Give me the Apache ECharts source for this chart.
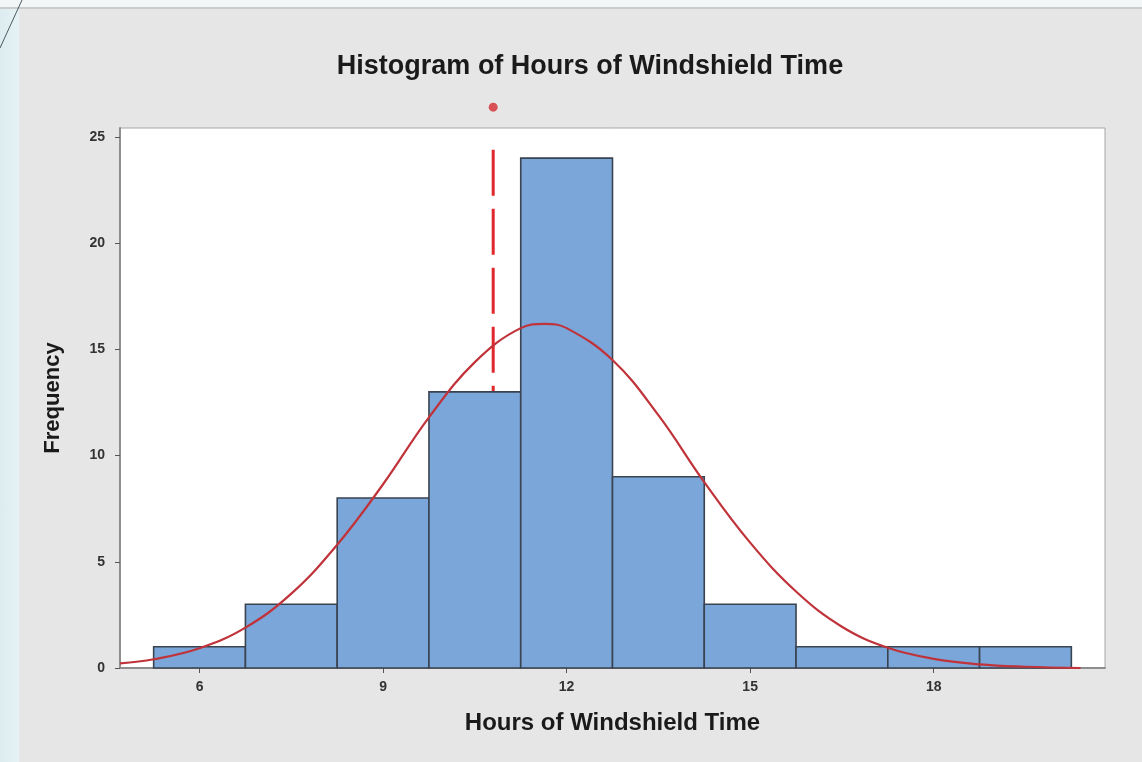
<!DOCTYPE html>
<html>
<head>
<meta charset="utf-8">
<script src="https://cdn.jsdelivr.net/npm/echarts@6/dist/echarts.min.js"></script>
<style>
  html, body { margin: 0; padding: 0; width: 1142px; height: 762px; overflow: hidden; }
  body { background: linear-gradient(to right, #dcecf0 0px, #e6f2f5 18px, #e6e6e6 20px, #e6e6e6 100%); }
  #topband { position: absolute; left: 0; top: 0; width: 1142px; height: 7px; background: #f2f6f7; border-bottom: 2px solid #c8cccd; }
  #deco { position: absolute; left: 0; top: 0; }
  #chart { position: absolute; left: 0; top: 0; width: 1142px; height: 762px; }
</style>
</head>
<body>
<div id="topband"></div>
<svg id="deco" width="30" height="60"><line x1="22" y1="0" x2="0" y2="48" stroke="#4a5a60" stroke-width="1"/></svg>
<div id="chart"></div>
<script>
// ---- data ----
const binCenters = [6, 7.5, 9, 10.5, 12, 13.5, 15, 16.5, 18, 19.5];
const binWidth = 1.5;
const frequencies = [1, 3, 8, 13, 24, 9, 3, 1, 1, 1];
const xTicks = [6, 9, 12, 15, 18];
const yTicks = [0, 5, 10, 15, 20, 25];
// fitted-curve points
const curveX = [4.7, 5.25, 6, 6.75, 7.5, 8.25, 9, 9.75, 10.5, 11.25, 11.65, 12, 12.75, 13.5, 14.25, 15, 15.75, 16.5, 17.25, 18, 18.75, 19.5, 20.4];
const curveY = [0.22, 0.41, 0.93, 1.9, 3.5, 5.8, 8.65, 11.8, 14.4, 16.0, 16.2, 16.0, 14.5, 11.9, 8.75, 5.9, 3.6, 1.94, 0.95, 0.43, 0.17, 0.06, 0.0];
const targetValue = 10.8;
const targetTop = 24.4;
const targetMarker = 26.4;

const barData = binCenters.map((c, i) => [c - binWidth / 2, c + binWidth / 2, frequencies[i]]);
const curveData = curveX.map((x, i) => [x, curveY[i]]);

const chart = echarts.init(document.getElementById('chart'), null, { renderer: 'canvas' });
const fontFam = '"Liberation Sans", Arial, sans-serif';

chart.setOption({
  animation: false,
  backgroundColor: 'transparent',
  title: {
    text: 'Histogram of Hours of Windshield Time',
    left: 585, top: 48, textAlign: 'center',
    textStyle: { fontFamily: fontFam, fontSize: 27, fontWeight: 'bold', color: '#1a1a1a' }
  },
  grid: {
    left: 120, right: 37, top: 128, bottom: 94,
    show: true, backgroundColor: '#ffffff', borderColor: '#a6a6a6', borderWidth: 1
  },
  xAxis: {
    type: 'value', min: 4.7, max: 20.8,
    name: 'Hours of Windshield Time', nameLocation: 'middle', nameGap: 43,
    nameTextStyle: { fontFamily: fontFam, fontSize: 24, fontWeight: 'bold', color: '#1a1a1a' },
    axisLine: { show: true, lineStyle: { color: '#8e8e8e', width: 2 } },
    axisTick: { show: true, customValues: xTicks, length: 5, lineStyle: { color: '#555' } },
    axisLabel: { customValues: xTicks, margin: 12, fontFamily: fontFam, fontSize: 14, fontWeight: 'bold', color: '#333' },
    splitLine: { show: false }
  },
  yAxis: {
    type: 'value', min: 0, max: 25.42,
    name: 'Frequency', nameLocation: 'middle', nameGap: 56,
    nameTextStyle: { fontFamily: fontFam, fontSize: 22, fontWeight: 'bold', color: '#1a1a1a' },
    axisLine: { show: true, lineStyle: { color: '#8e8e8e', width: 2 } },
    axisTick: { show: true, customValues: yTicks, length: 5, lineStyle: { color: '#555' } },
    axisLabel: { customValues: yTicks, margin: 15, fontFamily: fontFam, fontSize: 14, fontWeight: 'bold', color: '#333' },
    splitLine: { show: false }
  },
  series: [
    {
      type: 'line', z: 1, symbol: 'none',
      lineStyle: { color: '#e0282c', width: 3, type: [46, 13] },
      data: [[targetValue, targetTop], [targetValue, 0]]
    },
    {
      type: 'scatter', z: 4, clip: false, symbol: 'circle', symbolSize: 9,
      itemStyle: { color: '#d42a2e' },
      data: [[targetValue, targetMarker]]
    },
    {
      type: 'custom', z: 2,
      renderItem: function (params, api) {
        const p0 = api.coord([api.value(0), 0]);
        const p1 = api.coord([api.value(1), api.value(2)]);
        return {
          type: 'rect',
          shape: { x: p0[0], y: p1[1], width: p1[0] - p0[0], height: p0[1] - p1[1] },
          style: { fill: '#7ba6d9', stroke: '#3a4350', lineWidth: 1.6 }
        };
      },
      encode: { x: [0, 1], y: 2 },
      data: barData
    },
    {
      type: 'line', z: 3, smooth: 0.4, symbol: 'none',
      lineStyle: { color: '#c0333a', width: 2.2 },
      data: curveData
    }
  ]
});
</script>
</body>
</html>
